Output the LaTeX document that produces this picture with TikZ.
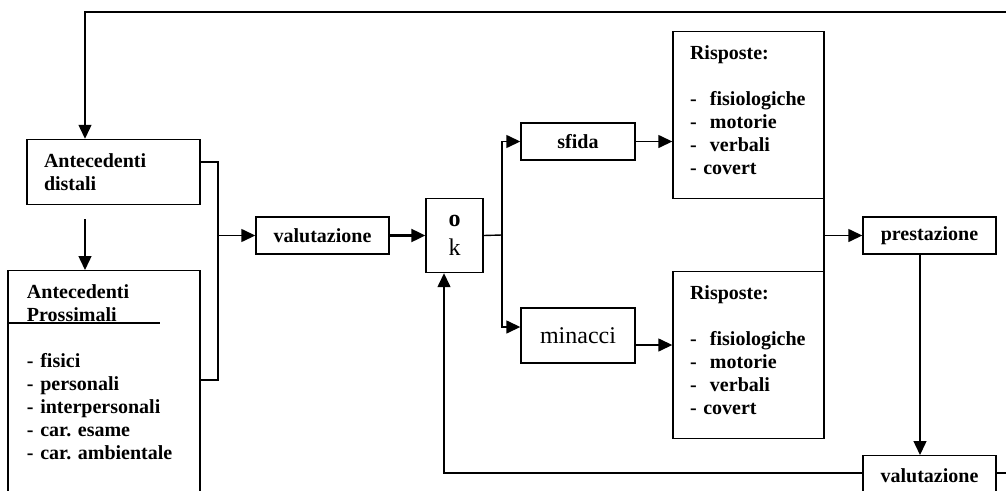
\documentclass[tikz,border=0pt]{standalone}
\usepackage{fontspec}
\setmainfont{Liberation Serif}
\usetikzlibrary{
  arrows.meta,    % triangle tips
  positioning     % right=of
}
\tikzset{
  every node/.style = {
    rectangle,
    draw,
    line width=1.4pt,
    inner sep=0pt,
    font=\fontsize{20}{23}\selectfont\bfseries
  },
  box/.style = {minimum width=133pt, minimum height=37pt},
  list/.style = {align=left, inner xsep=17pt, inner ysep=14pt},
  big/.style = {font=\fontsize{24}{29}\selectfont\mdseries},
  >={Triangle[length=14pt,width=13pt]}  % arrow type
}

\begin{document}
\frenchspacing
\begin{tikzpicture}[x=1pt, y=-1pt, line width=1.4pt]
  \useasboundingbox (0,0) rectangle (1006,490);
  \clip (0,0) rectangle (1006,490);

  %% nodes
  \node[list, text width=139pt, minimum height=58pt] (AD) at (113.5,172) {Antecedenti\\distali};

  \node[list, inner xsep=19pt, text width=154pt, text depth=220pt, anchor=north] (AP) at (104,270)
    {Antecedenti\\Prossimali\\[23pt]- fisici\\- personali\\- interpersonali\\- car. esame\\- car. ambientale};

  \node[box] (V1) at (322.5,235.5) {valutazione};
  \node[big, align=center, minimum width=57pt, minimum height=74pt] (OK) [right=35.6pt of V1] {\textbf{o}\\k};

  \node[box, minimum width=114pt] (SF) at (578,141.5) {sfida};
  \node[big, minimum width=114pt, minimum height=55pt] (MI) at (578,335.5) {minacci};

  \node[list, text width=117pt, text depth=125pt, anchor=north] (R1) at (748.5,31)
    {Risposte:\\[23pt]-~ fisiologiche\\-~ motorie\\-~ verbali\\- covert};
  \node[list, text width=117pt, text depth=125pt, anchor=north] (R2) at (748.5,271)
    {Risposte:\\[23pt]-~ fisiologiche\\-~ motorie\\-~ verbali\\- covert};

  \node[box] (PR) at (929.5,235.5) {prestazione};
  \node[box, text height=13.5pt, text depth=40pt, inner ysep=13pt, anchor=north] (V2) at (929.5,455) {valutazione};

  %% helper points
  \coordinate (col) at (85,0);
  \coordinate (J) at (218,235.5);
  \coordinate (PJ) at (218,380);
  \coordinate (S) at (502,235);
  \coordinate (sep) at (160,323);
  \coordinate (B) at (444,473);
  \coordinate (loop) at (1016,12);

  %% arrows
  \draw[->] (V2.east |- B) -| (loop) -| (AD.north -| col);
  \draw[->, shorten <=14pt] (AD.south -| col) -- (AP.north -| col);
  \draw (AP.west |- sep) -- (sep);

  \draw ([yshift=10pt]AD.east) -| (J);
  \draw (AP.east |- PJ) -| (J);
  \draw[->] (J) -- (V1.west);
  \draw[->, line width=2.2pt] (V1) -- (OK);

  \draw (OK.east) -- (S);
  \draw[->] (S) |- (SF.west);
  \draw[->] (S) |- ([yshift=8.5pt]MI.west);
  \draw[->] (SF.east) -- (SF.east -| R1.west);
  \draw[->] ([yshift=-9.5pt]MI.east) -- ([yshift=-9.5pt]MI.east -| R2.west);

  \draw ([xshift=-0.7pt]R1.south east) -- ([xshift=-0.7pt]R2.north east);
  \draw[->] (R1.south east |- PR.west) -- (PR.west);
  \draw[->] ([xshift=-9.5pt]PR.south) -- ([xshift=-9.5pt]PR.south |- V2.north);
  \draw[->] (V2.west |- B) -- (B) -- (OK.south -| B);

\end{tikzpicture}
\end{document}
